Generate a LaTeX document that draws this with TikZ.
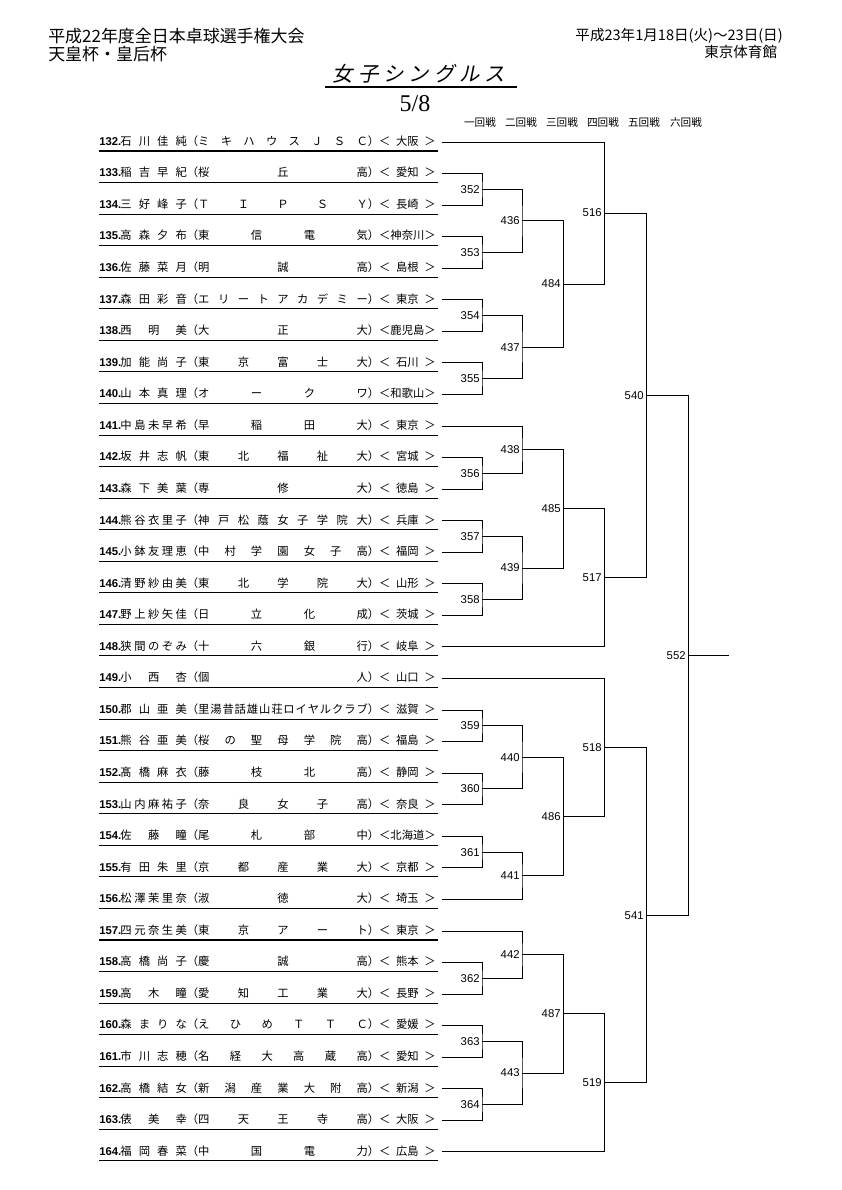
\documentclass[tikz,border=0pt]{standalone}
\usepackage{fontspec}
\setmainfont{Noto Sans CJK JP}
\newfontfamily\numfont{Liberation Sans}
\newfontfamily\serifnum{Liberation Serif}
\newfontfamily\titlefont[FakeSlant=0.2]{Noto Sans CJK JP}
\usetikzlibrary{positioning,calc}
\tikzset{
	player/.style={
		anchor=west,
		inner sep=0pt,
		font=\fontsize{8}{9}\selectfont
	},
	score/.style={
		anchor=east,
		inner sep=1.5pt,
		font=\numfont\fontsize{8}{9}\selectfont
	},
	roundhead/.style={
		inner sep=0pt,
		font=\fontsize{7.5}{8}\selectfont
	},
	head/.style={
		inner sep=0pt,
		font=\fontsize{12}{13}\selectfont
	},
	bracket/.style={
		line width=0.7pt
	},
	uline/.style={
		line width=0.75pt
	},
}
% spread the characters of a word evenly over a given width
\def\evenchars#1#2{#1\ifx\relax#2\else\hfill\expandafter\evenchars\expandafter#2\fi}
\newcommand{\evenbox}[2]{\makebox[#1][s]{\expandafter\evenchars#2\relax}}
\newcommand{\playerrow}[4]{\makebox[15pt][l]{\numfont\bfseries #1.}\evenbox{47pt}{#2}（\evenbox{120pt}{#3}）＜\makebox[24pt]{#4}＞}
% one match: label, column, upper and lower entry
\newcommand{\duel}[4]{%
	\coordinate (h) at ($(#3)!.5!(#4)$);
	\coordinate (m#1) at (h -| #2);
	\draw[bracket] (#3) -| (m#1) |- (#4);
	\node[score] (s#1) at (m#1) {#1};
}
\begin{document}
\begin{tikzpicture}[x=0.7075pt,y=-0.7075pt]
	\path[use as bounding box,fill=white] (0,0) rectangle (841,1190);
	
	\node[head,anchor=west] (meet) at (48,36) {平成22年度全日本卓球選手権大会};
	\node[head] (cup) [below=1pt of meet.south west,anchor=north west] {天皇杯・皇后杯};
	\node[head,anchor=east,font=\fontsize{10.3}{12}\selectfont] (date) at (783,36) {平成23年1月18日(火)～23日(日)};
	\node[head,font=\fontsize{10.3}{12}\selectfont] (hall) [below=1pt of date.south east,anchor=north east,xshift=-4pt] {東京体育館};
	
	\node[inner sep=0pt,font=\titlefont\fontsize{14.5}{17}\selectfont] (title) at (419,74) {\evenbox{122pt}{女子シングルス}};
	\draw[uline] (325,87) -- (517,87);
	\node[inner sep=0pt,font=\serifnum\fontsize{17}{19}\selectfont] (page) at (415,104) {5/8};
	
	\foreach \r/\x in {一/480,二/521,三/562,四/603,五/644,六/686}
		\node[roundhead] (r\r) at (\x,122) {\r 回戦};
	
	\foreach \n/\nm/\cl/\pf [count=\i from 0] in {
		132/石川佳純/ミキハウスＪＳＣ/大阪,
		133/稲吉早紀/桜丘高/愛知,
		134/三好峰子/ＴＩＰＳＹ/長崎,
		135/高森夕布/東信電気/神奈川,
		136/佐藤菜月/明誠高/島根,
		137/森田彩音/エリートアカデミー/東京,
		138/西明美/大正大/鹿児島,
		139/加能尚子/東京富士大/石川,
		140/山本真理/オークワ/和歌山,
		141/中島未早希/早稲田大/東京,
		142/坂井志帆/東北福祉大/宮城,
		143/森下美葉/専修大/徳島,
		144/熊谷衣里子/神戸松蔭女子学院大/兵庫,
		145/小鉢友理恵/中村学園女子高/福岡,
		146/清野紗由美/東北学院大/山形,
		147/野上紗矢佳/日立化成/茨城,
		148/狭間のぞみ/十六銀行/岐阜,
		149/小西杏/個人/山口,
		150/郡山亜美/里湯昔話雄山荘ロイヤルクラブ/滋賀,
		151/熊谷亜美/桜の聖母学院高/福島,
		152/髙橋麻衣/藤枝北高/静岡,
		153/山内麻祐子/奈良女子高/奈良,
		154/佐藤瞳/尾札部中/北海道,
		155/有田朱里/京都産業大/京都,
		156/松澤茉里奈/淑徳大/埼玉,
		157/四元奈生美/東京アート/東京,
		158/高橋尚子/慶誠高/熊本,
		159/高木瞳/愛知工業大/長野,
		160/森まりな/えひめＴＴＣ/愛媛,
		161/市川志穂/名経大高蔵高/愛知,
		162/高橋結女/新潟産業大附高/新潟,
		163/俵美幸/四天王寺高/大阪,
		164/福岡春菜/中国電力/広島}
	{
		\node[player] (n\n) at (99,{141+\i*31.56}) {\playerrow{\n}{\nm}{\cl}{\pf}};
		\draw[uline] (99,{151+\i*31.56}) -- (438,{151+\i*31.56});
		\coordinate (p\n) at (442,{142+\i*31.56});
	}
	
	\coordinate (c1) at (482,0);
	\coordinate (c2) at (522,0);
	\coordinate (c3) at (563,0);
	\coordinate (c4) at (604,0);
	\coordinate (c5) at (646,0);
	\coordinate (c6) at (688,0);
	
	% first round
	\duel{352}{c1}{p133}{p134}
	\duel{353}{c1}{p135}{p136}
	\duel{354}{c1}{p137}{p138}
	\duel{355}{c1}{p139}{p140}
	\duel{356}{c1}{p142}{p143}
	\duel{357}{c1}{p144}{p145}
	\duel{358}{c1}{p146}{p147}
	\duel{359}{c1}{p150}{p151}
	\duel{360}{c1}{p152}{p153}
	\duel{361}{c1}{p154}{p155}
	\duel{362}{c1}{p158}{p159}
	\duel{363}{c1}{p160}{p161}
	\duel{364}{c1}{p162}{p163}
	% second round
	\duel{436}{c2}{m352}{m353}
	\duel{437}{c2}{m354}{m355}
	\duel{438}{c2}{p141}{m356}
	\duel{439}{c2}{m357}{m358}
	\duel{440}{c2}{m359}{m360}
	\duel{441}{c2}{m361}{p156}
	\duel{442}{c2}{p157}{m362}
	\duel{443}{c2}{m363}{m364}
	% third round
	\duel{484}{c3}{m436}{m437}
	\duel{485}{c3}{m438}{m439}
	\duel{486}{c3}{m440}{m441}
	\duel{487}{c3}{m442}{m443}
	% fourth round
	\duel{516}{c4}{p132}{m484}
	\duel{517}{c4}{m485}{p148}
	\duel{518}{c4}{p149}{m486}
	\duel{519}{c4}{m487}{p164}
	% fifth and sixth round
	\duel{540}{c5}{m516}{m517}
	\duel{541}{c5}{m518}{m519}
	\duel{552}{c6}{m540}{m541}
	\coordinate (winner) at ($(m552)+(41,0)$);
	\draw[bracket] (m552) -- (winner);
\end{tikzpicture}
\end{document}
